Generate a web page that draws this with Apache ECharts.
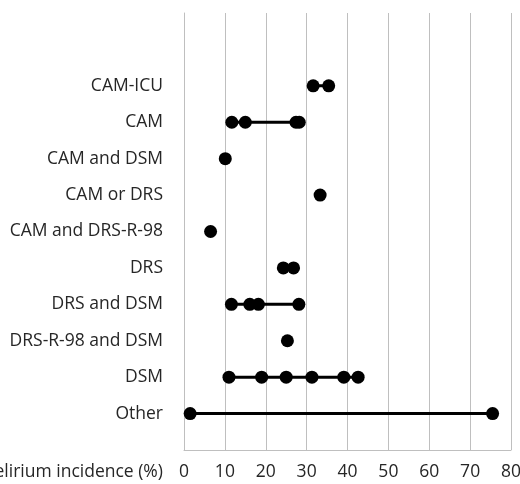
<!DOCTYPE html>
<html>
<head>
<meta charset="utf-8">
<script src="https://cdn.jsdelivr.net/npm/echarts@6/dist/echarts.min.js"></script>
<style>html,body{margin:0;padding:0;background:#fff;}#c{width:520px;height:484px;}</style>
</head>
<body>
<div id="c"></div>
<script>
// Categories, top to bottom
const categories = ['CAM-ICU', 'CAM', 'CAM and DSM', 'CAM or DRS', 'CAM and DRS-R-98', 'DRS', 'DRS and DSM', 'DRS-R-98 and DSM', 'DSM', 'Other'];
// Delirium incidence (%) per category
const camIcu = [31.6, 35.4];
const cam = [11.7, 15.0, 27.4, 28.2];
const camAndDsm = [10.1];
const camOrDrs = [33.3];
const camAndDrsR98 = [6.5];
const drs = [24.3, 26.8];
const drsAndDsm = [11.6, 16.1, 18.2, 28.1];
const drsR98AndDsm = [25.3];
const dsm = [11.0, 19.0, 25.0, 31.3, 39.1, 42.6];
const other = [1.5, 75.5];
const xTicks = [0, 10, 20, 30, 40, 50, 60, 70, 80];

const valuesByCategory = [camIcu, cam, camAndDsm, camOrDrs, camAndDrsR98, drs, drsAndDsm, drsR98AndDsm, dsm, other];

// y axis slots: bottom blank, categories (bottom-up), two blank slots on top
const yData = [''].concat(categories.slice().reverse(), ['', '']);

const series = categories.map(function (name, i) {
  const yIdx = yData.indexOf(name);
  return {
    name: name,
    type: 'line',
    symbol: 'circle',
    symbolSize: 13,
    showAllSymbol: true,
    itemStyle: { color: '#000' },
    lineStyle: { color: '#000', width: 3 },
    emphasis: { disabled: true },
    data: valuesByCategory[i].map(function (v) { return [v, yIdx]; })
  };
});

const chart = echarts.init(document.getElementById('c'));
const font = '"Open Sans", sans-serif';
const textColor = '#262626';
chart.setOption({
  animation: false,
  grid: { left: 184, right: 9, top: 13, bottom: 34, containLabel: false, outerBoundsMode: 'none' },
  xAxis: {
    type: 'value',
    min: xTicks[0],
    max: xTicks[xTicks.length - 1],
    interval: 10,
    name: 'Delirium incidence (%)',
    nameLocation: 'start',
    nameGap: 21,
    nameTextStyle: { color: textColor, fontSize: 17.5, fontFamily: font, verticalAlign: 'top', align: 'right', padding: [13, 0, 0, 0] },
    axisLine: { show: true, lineStyle: { color: '#bfbfbf', width: 1 } },
    axisTick: { show: false },
    axisLabel: { color: textColor, fontSize: 17.5, fontFamily: font, margin: 13 },
    splitLine: { show: true, lineStyle: { color: '#bfbfbf', width: 1 } }
  },
  yAxis: {
    type: 'category',
    data: yData,
    boundaryGap: false,
    axisLine: { show: true, lineStyle: { color: '#bfbfbf', width: 1 } },
    axisTick: { show: false },
    axisLabel: { color: textColor, fontSize: 17.5, fontFamily: font, margin: 21, interval: 0 },
    splitLine: { show: false }
  },
  series: series
});
</script>
</body>
</html>
